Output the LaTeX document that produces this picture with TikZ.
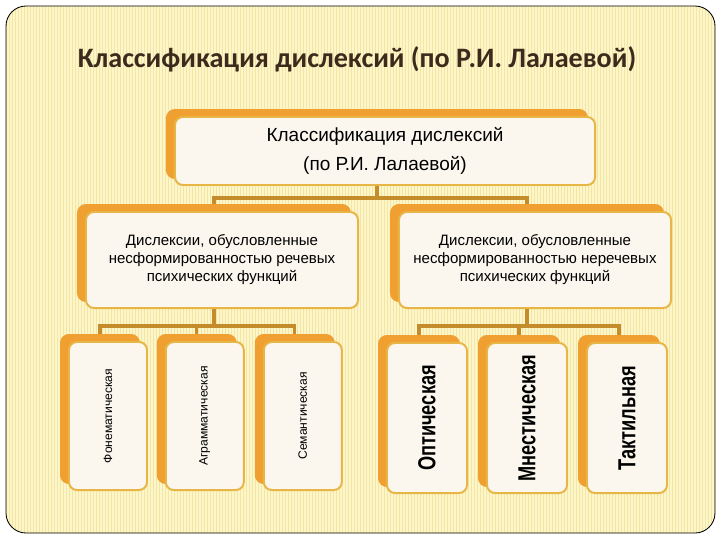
\documentclass[tikz,border=0pt]{standalone}
\usepackage{fontspec}
\setmainfont{Liberation Sans}
\newfontfamily\titlefont{Carlito}
\newfontfamily\narrowfont[FakeStretch=0.74]{Liberation Sans}
\usepackage{tikz}
\usetikzlibrary{positioning, calc, shadows}
\usepackage{xcolor}
\definecolor{paper}{RGB}{253,246,200}
\definecolor{stripe}{RGB}{243,229,165}
\definecolor{backorange}{RGB}{240,160,48}
\definecolor{cardfill}{RGB}{251,247,238}
\definecolor{cardedge}{RGB}{232,182,70}
\definecolor{linkcol}{RGB}{196,140,42}
\definecolor{titlebrown}{RGB}{60,42,28}
\tikzset{
  card/.style={draw=cardedge, line width=1.4pt, fill=cardfill, rounded corners=0.2cm, inner sep=0pt, align=center,
    copy shadow={shadow xshift=-0.2cm, shadow yshift=0.175cm, fill=backorange, draw=backorange}},
  link/.style={draw=linkcol, line width=2.2pt},
}

\begin{document}
\begin{tikzpicture}[x=0.025cm, y=-0.025cm]
  \useasboundingbox (0,0) rectangle (720,540);
  % striped page
  \begin{scope}
    \clip[rounded corners=0.5cm] (6,6) rectangle (715,533);
    \fill[paper] (0,0) rectangle (720,540);
    \foreach \i in {0,3,...,720} \draw[stripe, line width=0.45pt] (\i,0) -- (\i,540);
  \end{scope}
  \draw[rounded corners=0.5cm, line width=0.6pt] (6,6) rectangle (715,533);

  \node[font=\titlefont\bfseries\fontsize{20}{24}\selectfont, text=titlebrown] (title) at (357,59) {Классификация дислексий (по Р.И. Лалаевой)};

  \node[card, minimum width=10.5cm, minimum height=1.7cm, font=\fontsize{13.5}{20.6}\selectfont] (top) at (385,151) {Классификация дислексий\\(по Р.И. Лалаевой)};
  \node[card, minimum width=6.8cm, minimum height=2.4cm, font=\fontsize{10.7}{12.8}\selectfont] (lmid) at (222,260) {Дислексии, обусловленные\\несформированностью речевых\\психических функций};
  \node[card, minimum width=6.8cm, minimum height=2.4cm, font=\fontsize{10.7}{12.8}\selectfont] (rmid) at (535,260) {Дислексии, обусловленные\\несформированностью неречевых\\психических функций};

  \node[card, minimum width=1.95cm, minimum height=3.7cm, font=\fontsize{8.6}{10}\selectfont] (fon) at (108,416) {\rotatebox{90}{Фонематическая}};
  \node[card, minimum width=1.95cm, minimum height=3.7cm, font=\fontsize{8.6}{10}\selectfont, right=0.42cm of fon] (agr) {\rotatebox{90}{Аграмматическая}};
  \node[card, minimum width=1.95cm, minimum height=3.7cm, font=\fontsize{8.6}{10}\selectfont, right=0.45cm of agr] (sem) {\rotatebox{90}{Семантическая}};

  \node[card, minimum width=2cm, minimum height=3.75cm, font=\narrowfont\bfseries\fontsize{17.5}{20}\selectfont] (opt) at (427,418) {\rotatebox{90}{Оптическая}};
  \node[card, minimum width=2cm, minimum height=3.75cm, font=\narrowfont\bfseries\fontsize{17.5}{20}\selectfont, right=0.45cm of opt] (mne) {\rotatebox{90}{Мнестическая}};
  \node[card, minimum width=2cm, minimum height=3.75cm, font=\narrowfont\bfseries\fontsize{17.5}{20}\selectfont, right=0.45cm of mne] (tak) {\rotatebox{90}{Тактильная}};

  % connectors
  \draw[link] ([xshift=-0.2cm]top.south) -- ++(0,12) -| ([shift={(-8,-7)}]lmid.north);
  \draw[link] ([xshift=-0.2cm]top.south) -- ++(0,12) -| ([shift={(-8,-7)}]rmid.north);
  \foreach \n in {fon,agr,sem}
    \draw[link] ([xshift=-0.2cm]lmid.south) -- ++(0,17) -| ([shift={(-8,-7)}]\n.north);
  \foreach \n in {opt,mne,tak}
    \draw[link] ([xshift=-0.2cm]rmid.south) -- ++(0,17) -| ([shift={(-8,-7)}]\n.north);
\end{tikzpicture}
\end{document}
